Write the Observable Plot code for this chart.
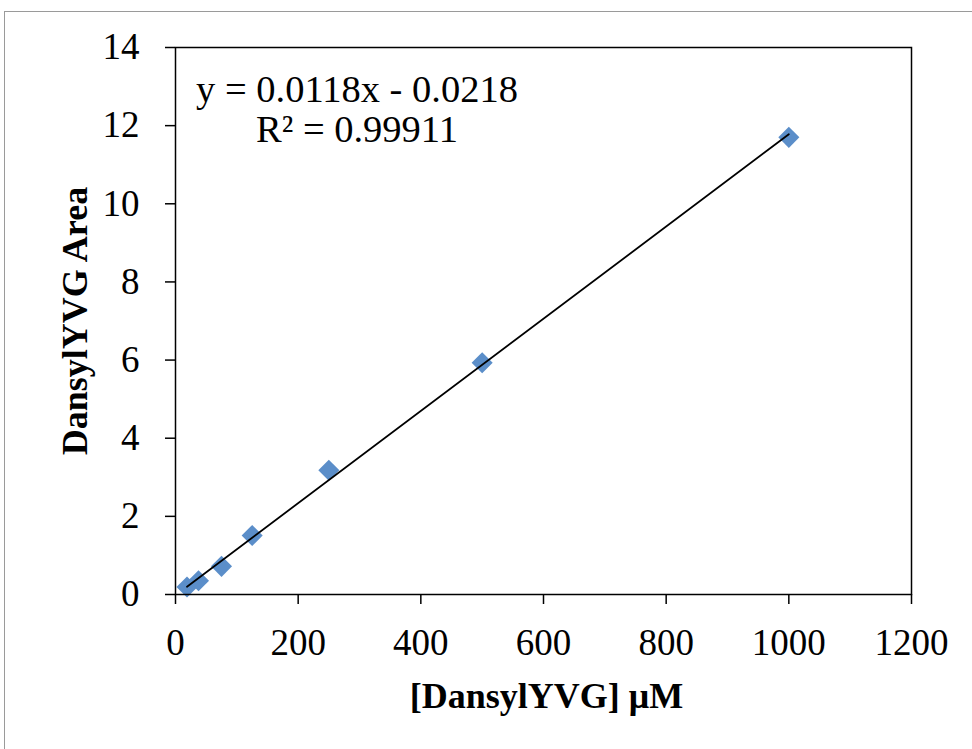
<!DOCTYPE html>
<html>
<head>
<meta charset="utf-8">
<script src="https://cdn.jsdelivr.net/npm/d3@7"></script>
<script src="https://cdn.jsdelivr.net/npm/@observablehq/plot@0.6"></script>
<style>
  html, body { margin: 0; padding: 0; background: white; overflow: hidden; }
  #wrap { position: relative; width: 972px; height: 749px; }
  #border { position: absolute; left: 4px; top: 11px; width: 2000px; height: 2000px; border: 1.5px solid #9a9a9a; box-sizing: border-box; }
  #chart { position: absolute; left: 0; top: 0; }
</style>
</head>
<body>
<div id="wrap"><div id="border"></div><div id="chart"></div></div>
<script>
// Data
const concentration = [18.75, 37.5, 75, 125, 250, 500, 1000];   // [DansylYVG] µM
const area = [0.19, 0.35, 0.72, 1.51, 3.18, 5.93, 11.70];        // DansylYVG Area
const xTicks = [0, 200, 400, 600, 800, 1000, 1200];
const yTicks = [0, 2, 4, 6, 8, 10, 12, 14];
const slope = 0.0118;
const intercept = -0.0218;
const equationText = "y = 0.0118x - 0.0218\nR\u00b2 = 0.99911";
const xTitle = "[DansylYVG] \u03bcM";
const yTitle = "DansylYVG Area";

const points = concentration.map((c, i) => ({x: c, y: area[i]}));
const xExt = d3.extent(concentration);
const fit = xExt.map(x => ({x, y: slope * x + intercept}));

const chart = Plot.plot({
  width: 972,
  height: 749,
  marginLeft: 175,
  marginRight: 61,
  marginTop: 47,
  marginBottom: 155,
  style: {fontFamily: "'Liberation Serif', serif", fontSize: "37px", color: "black", background: "transparent"},
  x: {domain: [0, 1200]},
  y: {domain: [0, 14]},
  marks: [
    Plot.axisX({ticks: xTicks, tickFormat: d => String(d), tickSize: 10, tickPadding: 24, label: null, fontSize: 37, strokeWidth: 1.5}),
    Plot.axisY({ticks: yTicks, tickFormat: d => String(d), tickSize: 10, tickPadding: 26, label: null, fontSize: 37, strokeWidth: 1.5}),
    Plot.dot(points, {x: "x", y: "y", symbol: "diamond2", r: 9.5, fill: "#5b8ec9", stroke: "none"}),
    Plot.line(fit, {x: "x", y: "y", stroke: "black", strokeWidth: 1.8}),
    Plot.frame({stroke: "black", strokeWidth: 1.5}),
    Plot.text([equationText], {frameAnchor: "top-left", dx: 181.5, dy: 26, textAnchor: "middle", lineAnchor: "top", lineHeight: 1.04, fontSize: 38.5, fill: "black"}),
    Plot.text([xTitle], {frameAnchor: "bottom", dx: 3, dy: 88, lineAnchor: "top", fontSize: 36, fontWeight: "bold", fill: "black"}),
    Plot.text([yTitle], {frameAnchor: "left", dx: -100, rotate: -90, textAnchor: "middle", fontSize: 36, fontWeight: "bold", fill: "black"})
  ]
});
document.getElementById("chart").appendChild(chart);
</script>
</body>
</html>
